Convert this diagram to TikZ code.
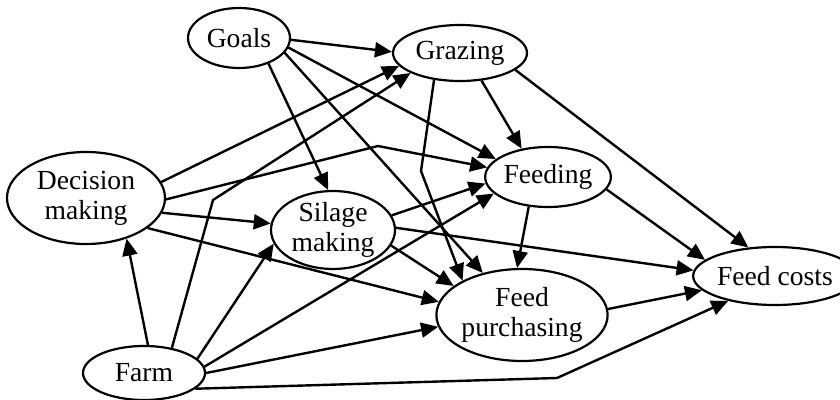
\documentclass[tikz,border=0pt]{standalone}
\usepackage{fontspec}
\setmainfont{Liberation Serif}
\usetikzlibrary{shapes.geometric}
\usetikzlibrary{arrows.meta}

\begin{document}
\begin{tikzpicture}[x=0.5pt, y=-0.5pt,
        box/.style={draw, ellipse, line width=1.1pt, inner sep=0pt, align=center, font=\fontsize{13.8}{15}\selectfont},
        arr/.style={line width=1.2pt, -{Triangle[length=8.5pt,width=7.5pt]}}]
            \useasboundingbox (0,0) rectangle (840,400);
            \node[box, minimum width=51pt, minimum height=30pt] (goals) at (239, 38) {Goals};
            \node[box, minimum width=67pt, minimum height=28pt] (grazing) at (460, 53) {Grazing};
            \node[box, minimum width=79pt, minimum height=46pt] (decision) at (86, 198) {Decision\\making};
            \node[box, minimum width=62pt, minimum height=38pt] (silage) at (333, 230) {Silage\\making};
            \node[box, minimum width=60pt, minimum height=30pt] (feeding) at (548, 177) {Feeding};
            \node[box, minimum width=75pt, minimum height=46pt] (purch) at (522, 315) {Feed\\purchasing};
            \node[box, minimum width=63pt, minimum height=29pt] (costs) at (775, 276) {Feed costs};
            \node[box, minimum width=61pt, minimum height=27pt] (farm) at (144, 373) {Farm};
        %   bends of the long edges
            \coordinate (b1) at (378, 146);
            \coordinate (b2) at (213, 200);
            \coordinate (b3) at (557, 378);
            \coordinate (b4) at (421, 171);
            \draw[arr] (goals.-2) -- (grazing.179);
            \draw[arr] (goals.-41) -- (silage.97);
            \draw[arr] (goals.-11) -- (feeding.161);
            \draw[arr] (goals.-18) -- (purch.133);
            \draw[arr] (decision.12) -- (grazing.192);
            \draw[arr] (decision.-1) -- (b1) -- (feeding.171);
            \draw[arr] (decision.-11) -- (silage.174);
            \draw[arr] (decision.-26) -- (purch.171);
            \draw[arr] (farm.82) -- (decision.-45);
            \draw[arr] (farm.42) -- (b2) -- (grazing.202);
            \draw[arr] (farm.15) -- (silage.193);
            \draw[arr] (farm.6) -- (feeding.197);
            \draw[arr] (farm.0) -- (purch.188);
            \draw[arr] (farm.-17) -- (b3) -- (costs.208);
            \draw[arr] (grazing.-52) -- (feeding.133);
            \draw[arr] (grazing.-17) -- (costs.133);
            \draw[arr] (grazing.226) -- (b4) -- (purch.150);
            \draw[arr] (silage.14) -- (feeding.186);
            \draw[arr] (silage.2) -- (costs.176);
            \draw[arr] (silage.-15) -- (purch.157);
            \draw[arr] (feeding.237) -- (purch.96);
            \draw[arr] (feeding.-12) -- (costs.167);
            \draw[arr] (purch.4) -- (costs.191);
        \end{tikzpicture}
\end{document}
